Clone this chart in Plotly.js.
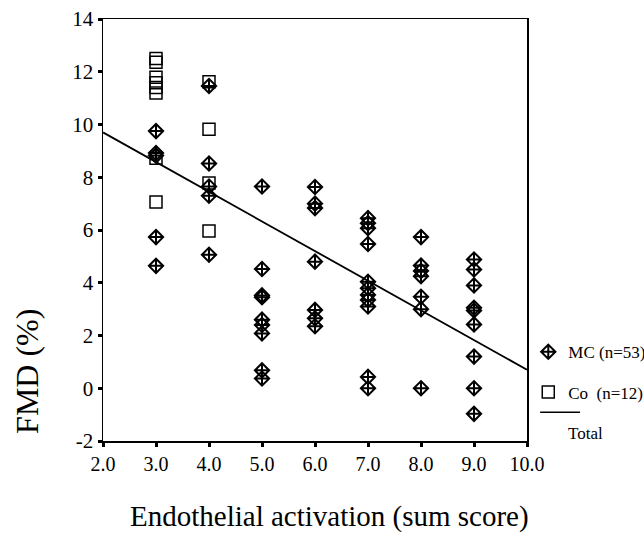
<!DOCTYPE html>
<html>
<head>
<meta charset="utf-8">
<script src="https://cdn.plot.ly/plotly-3.0.1.min.js"></script>
<style>
  html, body { margin: 0; padding: 0; background: #fff; }
  #chart { width: 644px; height: 541px; }
</style>
</head>
<body>
<div id="chart"></div>
<script>
// MC group (n=53): sum score vs FMD (%)
var mcX = [3,3,3,3,3,
           4,4,4,4,4,
           5,5,5,5,5,5,5,5,5,
           6,6,6,6,6,6,6,
           7,7,7,7,7,7,7,7,7,7,7,
           8,8,8,8,8,8,8,
           9,9,9,9,9,9,9,9,9];
var mcY = [9.75, 8.92, 8.82, 5.73, 4.64,
           11.46, 8.52, 7.65, 7.3, 5.06,
           7.65, 4.52, 3.52, 3.45, 2.6, 2.4, 2.08, 0.68, 0.37,
           7.63, 7.0, 6.83, 4.8, 2.97, 2.65, 2.35,
           6.45, 6.26, 6.07, 5.47, 4.04, 3.79, 3.54, 3.35, 3.1, 0.43, 0.0,
           5.73, 4.65, 4.45, 4.25, 3.47, 3.0, 0.0,
           4.88, 4.5, 3.9, 3.05, 2.95, 2.42, 1.2, 0.0, -0.97];

// Co group (n=12)
var coX = [3,3,3,3,3,3,3,3, 4,4,4,4];
var coY = [12.5, 12.36, 11.79, 11.58, 11.4, 11.19, 8.72, 7.06,
           11.62, 9.82, 7.78, 5.96];

// Total regression line
var fitX = [2, 10];
var fitY = [9.7, 0.7];

// Tick labels
var xTickVals = [2, 3, 4, 5, 6, 7, 8, 9, 10];
var xTickText = ['2.0', '3.0', '4.0', '5.0', '6.0', '7.0', '8.0', '9.0', '10.0'];
var yTickVals = [-2, 0, 2, 4, 6, 8, 10, 12, 14];
var yTickText = ['-2', '0', '2', '4', '6', '8', '10', '12', '14'];

var serif = '"Liberation Serif", "Times New Roman", Times, serif';

var traces = [
  {
    x: fitX, y: fitY, type: 'scatter', mode: 'lines',
    line: {color: '#000', width: 1.8},
    showlegend: false, hoverinfo: 'skip'
  },
  {
    x: coX, y: coY, type: 'scatter', mode: 'markers',
    name: 'Co\u00a0 (n=12)', legendgroup: 'co', legendrank: 2,
    marker: {symbol: 'square-open', size: 12, color: '#000', line: {width: 1.5, color: '#000'}}
  },
  {
    x: mcX, y: mcY, type: 'scatter', mode: 'markers',
    name: 'MC (n=53)', legendgroup: 'mc', legendrank: 1,
    marker: {symbol: 'diamond-cross-open', size: 11, color: '#000', line: {width: 2, color: '#000'}}
  }
];

var layout = {
  width: 644, height: 541,
  paper_bgcolor: '#fff', plot_bgcolor: '#fff',
  margin: {l: 103, r: 117, t: 19, b: 100, autoexpand: false},
  font: {family: serif, color: '#000'},
  xaxis: {
    range: [2, 10], tickvals: xTickVals, ticktext: xTickText,
    showgrid: false, zeroline: false,
    showline: true, linecolor: '#000', linewidth: 1.5, mirror: true,
    ticks: 'outside', ticklen: 4, tickwidth: 3, tickcolor: '#000',
    tickfont: {family: serif, size: 20, color: '#000'}
  },
  yaxis: {
    range: [-2, 14], tickvals: yTickVals, ticktext: yTickText,
    showgrid: false, zeroline: false,
    showline: true, linecolor: '#000', linewidth: 1.5, mirror: true,
    ticks: 'outside', ticklen: 4, tickwidth: 3, tickcolor: '#000',
    tickfont: {family: serif, size: 21, color: '#000'}
  },
  showlegend: true,
  legend: {
    x: 1.003, xanchor: 'left', y: 0.253, yanchor: 'top',
    font: {family: serif, size: 17, color: '#000'},
    tracegroupgap: 15, bgcolor: 'rgba(0,0,0,0)', traceorder: 'grouped'
  },
  shapes: [
    {type: 'line', xref: 'paper', yref: 'paper', x0: 1.031, x1: 1.125, y0: 0.068, y1: 0.068,
     line: {color: '#000', width: 1.5}}
  ],
  annotations: [
    {text: 'Total', xref: 'paper', yref: 'paper', x: 1.139, y: 0.018, xanchor: 'center', yanchor: 'middle',
     showarrow: false, font: {family: serif, size: 17, color: '#000'}},
    {text: 'FMD (%)', xref: 'paper', yref: 'paper', x: -0.178, y: 0.165, xanchor: 'center', yanchor: 'middle',
     textangle: -90, showarrow: false, font: {family: serif, size: 32, color: '#000'}},
    {text: 'Endothelial activation (sum score)', xref: 'paper', yref: 'paper', x: 0.535, y: -0.18,
     xanchor: 'center', yanchor: 'middle', showarrow: false, font: {family: serif, size: 29, color: '#000'}}
  ]
};

Plotly.newPlot('chart', traces, layout, {staticPlot: true, displayModeBar: false});
</script>
</body>
</html>
